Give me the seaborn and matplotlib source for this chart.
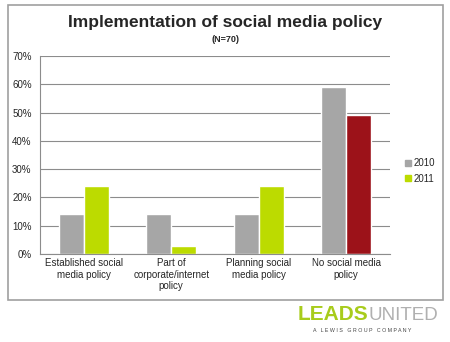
import matplotlib
matplotlib.use("Agg")
import matplotlib.pyplot as plt
import matplotlib.patches as mpatches
import seaborn as sns
import pandas as pd

categories = ["Established social\nmedia policy", "Part of\ncorporate/internet\npolicy",
              "Planning social\nmedia policy", "No social media\npolicy"]
years = ["2010", "2011"]
values_2010 = [14, 14, 14, 59]
values_2011 = [24, 3, 24, 49]
yticks = [0, 10, 20, 30, 40, 50, 60, 70]

GRAY = "#A6A6A6"
GREEN = "#BCDB00"
RED = "#9C1219"

df = pd.DataFrame({
    "cat": categories * 2,
    "year": [years[0]] * 4 + [years[1]] * 4,
    "val": values_2010 + values_2011,
})

sns.set_style("white")
plt.rcParams['font.family'] = ['Liberation Sans', 'DejaVu Sans']

fig = plt.figure(figsize=(4.5, 3.42), dpi=100)
fig.patch.set_facecolor("white")

# outer frame
fig.add_artist(mpatches.Rectangle((8/450, 1-300/342), 435/450, 295/342, transform=fig.transFigure,
                                  fill=False, edgecolor="#A0A0A0", linewidth=1.2))

ax = fig.add_axes([40/450, 1-254/342, 350/450, 198/342])
sns.barplot(data=df, x="cat", y="val", hue="year", palette=[GRAY, GREEN],
            width=0.57, saturation=1, ax=ax, legend=False)
# last 2011 bar is red
bars_2011 = ax.containers[1]
bars_2011[3].set_facecolor(RED)

ax.set_ylim(0, 70)
ax.set_yticks(yticks)
ax.set_yticklabels([f"{t}%" for t in yticks], fontsize=7)
ax.set_xlabel("")
ax.set_ylabel("")
ax.tick_params(axis="x", labelsize=7, length=0, pad=3)
ax.tick_params(axis="y", length=0, pad=6)
ax.grid(axis="y", color="#8C8C8C", linewidth=0.8)
ax.set_axisbelow(True)
for s in ["top", "right"]:
    ax.spines[s].set_visible(False)
for s in ["left", "bottom"]:
    ax.spines[s].set_color("#8C8C8C")
    ax.spines[s].set_linewidth(0.8)

handles = [mpatches.Patch(color=GRAY, label=years[0]), mpatches.Patch(color=GREEN, label=years[1])]
fig.legend(handles=handles, loc="center left", bbox_to_anchor=(396/450, 1-171/342), frameon=False,
           fontsize=7, handlelength=0.6, handleheight=0.6, handletextpad=0.3, labelspacing=0.55)

fig.text(225/450, 1-22/342, "Implementation of social media policy", ha="center", va="center",
         fontsize=12.5, fontweight="bold")
fig.text(225/450, 1-40/342, "(N=70)", ha="center", va="center", fontsize=6.5, fontweight="bold")

# logo
fig.text(368/450, 1-315/342, "LEADS", ha="right", va="center", fontsize=15, fontweight="bold",
         color="#A8CC1C")
fig.text(369/450, 1-315/342, "UNITED", ha="left", va="center", fontsize=13.5, color="#B0B0B0",
         fontweight="light")
fig.text(362/450, 1-330/342, "A   L E W I S   G R O U P   C O M P A N Y", ha="center", va="center",
         fontsize=3.8, color="#444444")

fig.savefig("out.png", dpi=100, facecolor="white")
